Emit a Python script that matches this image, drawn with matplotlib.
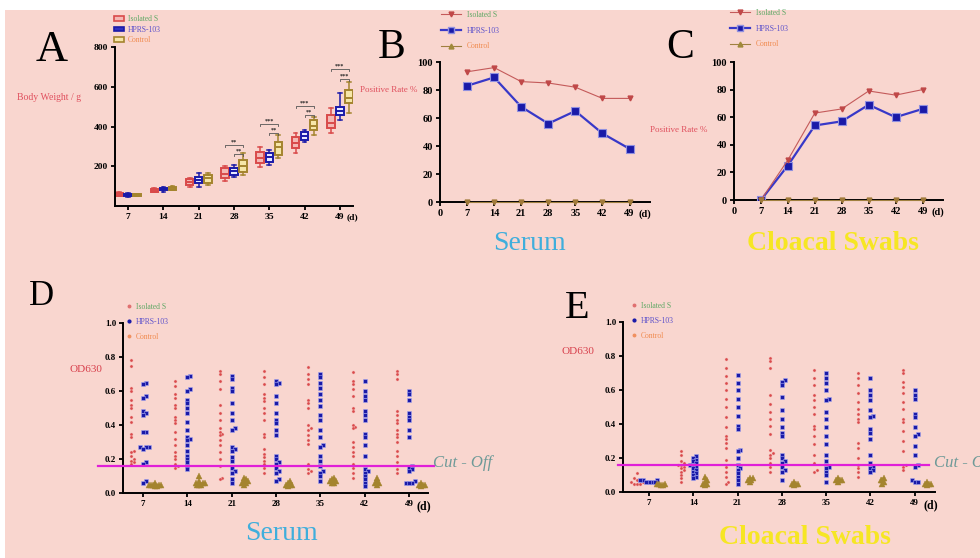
import numpy as np
import matplotlib
matplotlib.use("Agg")
import matplotlib.pyplot as plt
from matplotlib.patches import Rectangle, Patch
from matplotlib.lines import Line2D
import matplotlib.transforms as mtransforms

# ---------------- data ----------------
days = [7, 14, 21, 28, 35, 42, 49]
group_names = ["Isolated S", "HPRS-103", "Control"]

# Panel A : body weight box stats (whisker low, q1, median, q3, whisker high)
weight_iso = [(48, 52, 59, 64, 68), (68, 72, 80, 88, 93), (96, 106, 121, 136, 141),
              (126, 141, 162, 191, 201), (196, 216, 240, 272, 297),
              (267, 292, 315, 347, 367), (367, 392, 420, 458, 493)]
weight_hprs = [(44, 48, 55, 62, 66), (72, 78, 85, 92, 98), (96, 116, 130, 146, 166),
               (146, 156, 175, 191, 206), (206, 221, 248, 267, 282),
               (322, 332, 350, 372, 382), (433, 458, 478, 498, 568)]
weight_ctrl = [(50, 52, 57, 60, 62), (78, 82, 90, 98, 102), (106, 116, 140, 156, 166),
               (156, 171, 200, 231, 267), (241, 257, 297, 322, 357),
               (357, 382, 402, 433, 448), (468, 518, 545, 583, 624)]
sig_day = [28, 35, 42, 49]
sig_outer = ["**", "***", "***", "***"]
sig_inner = ["**", "**", "**", "***"]
sig_outer_y = [307, 412, 503, 689]
sig_inner_y = [262, 367, 458, 638]

# Panels B / C : positive rate %
serum_rate_iso = [93, 96, 86, 85, 82, 74, 74]
serum_rate_hprs = [83, 89, 68, 56, 65, 49, 38]
serum_rate_ctrl = [0, 0, 0, 0, 0, 0, 0]
swab_rate_iso = [0, 29, 63, 66, 79, 76, 80]
swab_rate_hprs = [0, 25, 54, 57, 69, 60, 66]
swab_rate_ctrl = [0, 0, 0, 0, 0, 0, 0]

# Panels D / E : OD630 individual values per day
serum_od_iso = [
    [0.78, 0.75, 0.62, 0.60, 0.55, 0.52, 0.50, 0.45, 0.42, 0.35, 0.33, 0.25, 0.24, 0.22, 0.20, 0.19, 0.18, 0.17],
    [0.66, 0.63, 0.58, 0.56, 0.52, 0.50, 0.45, 0.43, 0.41, 0.36, 0.32, 0.28, 0.24, 0.22, 0.20, 0.17, 0.16, 0.15],
    [0.72, 0.70, 0.66, 0.61, 0.52, 0.47, 0.43, 0.38, 0.36, 0.35, 0.34, 0.31, 0.28, 0.24, 0.20, 0.16, 0.09, 0.08],
    [0.72, 0.68, 0.64, 0.58, 0.56, 0.54, 0.50, 0.47, 0.43, 0.35, 0.33, 0.26, 0.23, 0.21, 0.19, 0.17, 0.15, 0.12],
    [0.74, 0.70, 0.67, 0.64, 0.55, 0.53, 0.50, 0.40, 0.38, 0.37, 0.34, 0.31, 0.29, 0.17, 0.14, 0.13, 0.12],
    [0.71, 0.66, 0.64, 0.61, 0.57, 0.50, 0.48, 0.40, 0.39, 0.38, 0.30, 0.27, 0.24, 0.22, 0.17, 0.15, 0.12, 0.09],
    [0.72, 0.70, 0.67, 0.48, 0.46, 0.43, 0.41, 0.37, 0.35, 0.33, 0.30, 0.25, 0.22, 0.18, 0.14, 0.12],
]
serum_od_hprs = [
    [0.65, 0.64, 0.57, 0.56, 0.48, 0.47, 0.46, 0.36, 0.36, 0.27, 0.27, 0.27, 0.26, 0.18, 0.17, 0.07, 0.06],
    [0.69, 0.68, 0.61, 0.60, 0.55, 0.53, 0.50, 0.47, 0.42, 0.37, 0.33, 0.32, 0.31, 0.28, 0.25, 0.22, 0.20, 0.18, 0.16, 0.14],
    [0.69, 0.67, 0.62, 0.60, 0.53, 0.47, 0.43, 0.38, 0.37, 0.27, 0.26, 0.25, 0.21, 0.19, 0.15, 0.13, 0.12, 0.08, 0.06],
    [0.66, 0.65, 0.64, 0.57, 0.53, 0.47, 0.43, 0.41, 0.37, 0.34, 0.22, 0.20, 0.18, 0.17, 0.15, 0.13, 0.12, 0.08, 0.07],
    [0.70, 0.68, 0.65, 0.62, 0.58, 0.55, 0.51, 0.46, 0.43, 0.37, 0.33, 0.28, 0.27, 0.22, 0.19, 0.16, 0.13, 0.12, 0.10, 0.07],
    [0.66, 0.60, 0.57, 0.55, 0.48, 0.46, 0.43, 0.35, 0.33, 0.28, 0.22, 0.14, 0.13, 0.12, 0.10, 0.08, 0.06, 0.04],
    [0.60, 0.58, 0.55, 0.47, 0.45, 0.43, 0.37, 0.33, 0.16, 0.15, 0.14, 0.13, 0.07, 0.06, 0.06, 0.06],
]
serum_od_ctrl = [
    [0.05, 0.05, 0.05, 0.04, 0.05, 0.06, 0.05, 0.04],
    [0.10, 0.07, 0.06, 0.06, 0.05, 0.05, 0.06, 0.05],
    [0.09, 0.08, 0.07, 0.06, 0.05, 0.07, 0.06],
    [0.07, 0.06, 0.05, 0.05, 0.05, 0.04],
    [0.09, 0.08, 0.07, 0.07, 0.06, 0.06],
    [0.09, 0.07, 0.06, 0.05, 0.06],
    [0.06, 0.05, 0.05, 0.05, 0.04],
]
swab_od_iso = [
    [0.11, 0.08, 0.07, 0.06, 0.06, 0.05, 0.05, 0.05, 0.07],
    [0.24, 0.22, 0.18, 0.17, 0.16, 0.16, 0.15, 0.14, 0.13, 0.12, 0.10, 0.08, 0.06],
    [0.78, 0.73, 0.68, 0.64, 0.60, 0.55, 0.50, 0.44, 0.38, 0.33, 0.31, 0.29, 0.26, 0.19, 0.15, 0.12, 0.09, 0.06, 0.05],
    [0.79, 0.77, 0.73, 0.57, 0.52, 0.47, 0.43, 0.39, 0.34, 0.25, 0.23, 0.22, 0.20, 0.17, 0.15, 0.12],
    [0.72, 0.67, 0.63, 0.57, 0.54, 0.50, 0.46, 0.39, 0.37, 0.33, 0.28, 0.22, 0.17, 0.13, 0.12],
    [0.70, 0.67, 0.63, 0.58, 0.53, 0.49, 0.46, 0.43, 0.41, 0.29, 0.26, 0.20, 0.16, 0.14, 0.12, 0.09],
    [0.72, 0.70, 0.65, 0.62, 0.58, 0.53, 0.49, 0.43, 0.41, 0.36, 0.30, 0.24, 0.16, 0.15, 0.13],
]
swab_od_hprs = [
    [0.07, 0.07, 0.06, 0.06, 0.06, 0.07, 0.06],
    [0.21, 0.20, 0.19, 0.18, 0.17, 0.16, 0.16, 0.15, 0.14, 0.13, 0.12, 0.11, 0.10, 0.09, 0.08],
    [0.69, 0.64, 0.60, 0.55, 0.50, 0.45, 0.39, 0.37, 0.25, 0.24, 0.20, 0.16, 0.14, 0.13, 0.11, 0.09, 0.07, 0.05],
    [0.66, 0.65, 0.63, 0.56, 0.48, 0.43, 0.38, 0.35, 0.33, 0.22, 0.20, 0.18, 0.17, 0.15, 0.13, 0.12, 0.07],
    [0.70, 0.67, 0.64, 0.60, 0.55, 0.54, 0.47, 0.43, 0.38, 0.33, 0.28, 0.22, 0.18, 0.15, 0.14, 0.12, 0.10, 0.06],
    [0.67, 0.60, 0.57, 0.54, 0.48, 0.45, 0.44, 0.37, 0.35, 0.31, 0.22, 0.17, 0.15, 0.14, 0.13, 0.12],
    [0.60, 0.57, 0.55, 0.46, 0.44, 0.38, 0.34, 0.33, 0.27, 0.22, 0.16, 0.15, 0.07, 0.06, 0.06],
]
swab_od_ctrl = [
    [0.05, 0.05, 0.04, 0.05, 0.04],
    [0.09, 0.07, 0.06, 0.05, 0.05, 0.04],
    [0.08, 0.07, 0.07, 0.06, 0.08],
    [0.06, 0.05, 0.05, 0.04, 0.05],
    [0.08, 0.07, 0.07, 0.06, 0.07],
    [0.08, 0.07, 0.06, 0.05, 0.07],
    [0.06, 0.05, 0.05, 0.05, 0.04],
]
cutoff = 0.16

# ---------------- style ----------------
W, H = 980, 558
PINK = "#F9D6CF"
RED = "#D94A4A"
BLUE = "#1A1AA8"
GOLD = "#A4842E"
TXT_ISO = "#5FA865"
TXT_HPRS = "#5A4FCB"
TXT_CTRL = "#F08A4E"
YLAB = "#E0505E"
SERIF = ["Liberation Serif", "DejaVu Serif"]
plt.rcParams["font.family"] = SERIF

fig = plt.figure(figsize=(W / 100, H / 100), dpi=100, facecolor="white")
fig.patches.append(Rectangle((5 / W, 0), 1, (H - 10) / H, transform=fig.transFigure,
                             facecolor=PINK, edgecolor="none", zorder=-10))


def px_axes(l, t, r, b):
    ax = fig.add_axes([l / W, 1 - b / H, (r - l) / W, (b - t) / H])
    ax.set_facecolor("none")
    return ax


def ftext(x, y, s, **kw):
    fig.text(x / W, 1 - y / H, s, **kw)


def style(ax, fs):
    for s in ["top", "right"]:
        ax.spines[s].set_visible(False)
    for s in ["left", "bottom"]:
        ax.spines[s].set_linewidth(1.4)
    ax.tick_params(direction="out", length=3, width=1.3, labelsize=fs, pad=2)
    for lab in ax.get_xticklabels() + ax.get_yticklabels():
        lab.set_fontweight("bold")


def color_legend(leg):
    for t, c in zip(leg.get_texts(), [TXT_ISO, TXT_HPRS, TXT_CTRL]):
        t.set_color(c)


def swarm_offsets(vals, step_y, dx):
    vals = np.asarray(vals, dtype=float)
    order = np.argsort(vals)
    offs = np.zeros(len(vals))
    placed = []
    for i in order:
        y = vals[i]
        k = 0
        while True:
            cand = 0.0 if k == 0 else ((k + 1) // 2) * dx * (1 if k % 2 else -1)
            if all(abs(py - y) >= step_y or abs(po - cand) >= dx * 0.99 for py, po in placed):
                break
            k += 1
        offs[i] = cand
        placed.append((y, cand))
    return offs


# ---------------- Panel A ----------------
axA = px_axes(115, 47, 353, 206)
off = 1.8
for stats_src, dx, col, fc in [(weight_iso, -off, RED, "#F4B8B4"),
                               (weight_hprs, 0.0, BLUE, "#E8E8FF"),
                               (weight_ctrl, off, GOLD, "#F6E6A8")]:
    stats = [dict(whislo=s[0], q1=s[1], med=s[2], q3=s[3], whishi=s[4], label="") for s in stats_src]
    axA.bxp(stats, positions=[d + dx for d in days], widths=1.5, patch_artist=True,
            showfliers=False,
            boxprops=dict(facecolor=fc, edgecolor=col, linewidth=1.4),
            medianprops=dict(color=col, linewidth=1.4),
            whiskerprops=dict(color=col, linewidth=1.1),
            capprops=dict(color=col, linewidth=1.1), manage_ticks=False)
for d, so, si, yo, yi in zip(sig_day, sig_outer, sig_inner, sig_outer_y, sig_inner_y):
    for x1, x2, y, s in [(d - off, d + off, yo, so), (d, d + off, yi, si)]:
        axA.plot([x1, x1, x2, x2], [y - 8, y, y, y - 8], color="#555555", lw=0.6)
        axA.text((x1 + x2) / 2, y + 4, s, ha="center", va="bottom", fontsize=4.5,
                 fontweight="bold", color="#222222")
axA.set_xlim(4.4, 51.6)
axA.set_ylim(0, 800)
axA.set_xticks(days)
axA.set_yticks([200, 400, 600, 800])
style(axA, 6.8)
ftext(347, 217, "(d)", fontsize=6.8, fontweight="bold", va="center", ha="left")
legA = axA.legend(handles=[Patch(facecolor="#F4B8B4", edgecolor=RED, lw=1.2),
                           Patch(facecolor="#3030C0", edgecolor=BLUE, lw=1.2),
                           Patch(facecolor="#F6E6A8", edgecolor=GOLD, lw=1.2)],
                  labels=group_names, loc="upper left", bbox_to_anchor=(114 / W, 1 - 15 / H),
                  bbox_transform=fig.transFigure, frameon=False, fontsize=5.5,
                  handlelength=1.3, handleheight=0.6, handletextpad=0.5, labelspacing=0.35,
                  borderpad=0, borderaxespad=0)
color_legend(legA)
ftext(17, 98, "Body Weight / g", fontsize=7, color=YLAB, va="center", ha="left")
ftext(52, 61, "A", fontsize=32, va="baseline", ha="center")

# ---------------- Panels B / C ----------------
def rate_panel(box, iso, hprs, ctrl, leg_anchor, title, tcol, tx, ylx, yly, letter, lx, ly):
    ax = px_axes(*box)
    ax.plot(days, hprs, color="#3838C8", lw=1.6, marker="s", ms=5.5, mfc=BLUE, mec="#9090E0",
            mew=0.8, zorder=3, label=group_names[1])
    ax.plot(days, iso, color="#C45A5A", lw=0.8, marker="v", ms=3.5, mfc="#C04848", mec="#C04848",
            zorder=4, label=group_names[0])
    ax.plot(days, ctrl, color="#A08040", lw=0.8, marker="v", ms=3.5, mfc="#A07A3A", mec="#A07A3A",
            zorder=5, clip_on=False, label=group_names[2])
    ax.set_xlim(0, 54.3)
    ax.set_ylim(0, 100)
    ax.set_xticks([0] + days)
    ax.set_yticks([0, 20, 40, 60, 80, 100])
    style(ax, 7.5)
    handles = [Line2D([], [], color="#C45A5A", lw=0.8, marker="v", ms=3.5, mfc="#C04848", mec="#C04848"),
               Line2D([], [], color="#3838C8", lw=1.6, marker="s", ms=5, mfc=BLUE, mec="#9090E0"),
               Line2D([], [], color="#A08040", lw=0.8, marker="^", ms=3.5, mfc="#A08A3A", mec="#A08A3A")]
    leg = ax.legend(handles=handles, labels=group_names, loc="upper left",
                    bbox_to_anchor=leg_anchor, bbox_transform=fig.transFigure, frameon=False,
                    fontsize=5.5, handlelength=2.6, handletextpad=0.8, labelspacing=1.0,
                    borderpad=0, borderaxespad=0)
    color_legend(leg)
    ftext(box[2] - 12, box[3] + 12, "(d)", fontsize=7.5, fontweight="bold", va="center", ha="left")
    ftext(tx, 243, title, fontsize=20, color=tcol, ha="center", va="center",
          fontweight="bold" if "Cloacal" in title else "normal")
    ftext(ylx, yly, "Positive Rate %", fontsize=6.5, color=YLAB, ha="right", va="center")
    ftext(lx, ly, letter, fontsize=30, va="baseline", ha="center")
    return ax


rate_panel((440, 62, 650, 202), serum_rate_iso, serum_rate_hprs, serum_rate_ctrl,
           (441 / W, 1 - 11 / H), "Serum", "#3FAEDC", 529, 417, 90, "B", 392, 58)
rate_panel((734, 62, 943, 200), swab_rate_iso, swab_rate_hprs, swab_rate_ctrl,
           (730 / W, 1 - 9 / H), "Cloacal Swabs", "#F6E623", 833, 707, 130, "C", 680, 58)

# ---------------- Panels D / E ----------------
def od_panel(box, xlim, iso, hprs, ctrl, leg_anchor, title, tcol, tx, ty, ylx, yly,
             letter, lx, ly, lfs, cut_x0, cut_x1, cut_tx):
    ax = px_axes(*box)
    o = 1.9
    for vals_by_day, dx, kw, sy, sx in [
        (iso, -o, dict(marker="o", ms=2.2, color=RED, mec="#F2B0B0", mew=0.3), 0.018, 0.45),
        (hprs, 0.0, dict(marker="s", ms=2.4, color=BLUE, mec="#A8A8F0", mew=0.4), 0.018, 0.45),
        (ctrl, o, dict(marker="^", ms=4.2, color=GOLD, mec=GOLD, mew=0.3), 0.012, 0.3),
    ]:
        for d, vals in zip(days, vals_by_day):
            offs = swarm_offsets(vals, sy, sx)
            ax.plot(np.full(len(vals), d + dx) + offs, vals, ls="none", zorder=3, **kw)
    tr = mtransforms.blended_transform_factory(ax.transAxes, ax.transData)
    ax.plot([cut_x0, cut_x1], [cutoff, cutoff], color="#E020D8", lw=1.6, transform=tr,
            clip_on=False, zorder=4)
    ax.set_xlim(*xlim)
    ax.set_ylim(0, 1.0)
    ax.set_xticks(days)
    ax.set_yticks([0.0, 0.2, 0.4, 0.6, 0.8, 1.0])
    ax.set_yticklabels(["0.0", "0.2", "0.4", "0.6", "0.8", "1.0"])
    style(ax, 6.5)
    handles = [Line2D([], [], ls="none", marker="o", ms=1.8, color="#E07070"),
               Line2D([], [], ls="none", marker="o", ms=2.0, color=BLUE),
               Line2D([], [], ls="none", marker="o", ms=1.8, color="#F09060")]
    leg = ax.legend(handles=handles, labels=group_names, loc="upper left",
                    bbox_to_anchor=leg_anchor, bbox_transform=fig.transFigure, frameon=False,
                    fontsize=5.5, handlelength=0.6, handletextpad=0.6, labelspacing=0.9,
                    borderpad=0, borderaxespad=0)
    color_legend(leg)
    ftext(box[2] - 12, box[3] + 13, "(d)", fontsize=8.5, fontweight="bold", va="center", ha="left")
    ftext(tx, ty, title, fontsize=20, color=tcol, ha="center", va="center",
          fontweight="bold" if "Cloacal" in title else "normal")
    ftext(ylx, yly, "OD630", fontsize=8, color="#D8404C", ha="left", va="center")
    ftext(lx, ly, letter, fontsize=lfs, va="baseline", ha="center")
    ftext(cut_tx, 463, "Cut - Off", fontsize=12, style="italic", color="#6E9A98",
          ha="left", va="center")
    return ax


od_panel((123, 323, 428, 493), (3.84, 52.0), serum_od_iso, serum_od_hprs, serum_od_ctrl,
         (127 / W, 1 - 303 / H), "Serum", "#3FAEDC", 281, 533, 70, 370, "D", 41, 305, 25,
         -0.082, 1.02, 433)
od_panel((623, 322, 935, 492), (2.9, 52.2), swab_od_iso, swab_od_hprs, swab_od_ctrl,
         (632 / W, 1 - 302 / H), "Cloacal Swabs", "#F6E623", 805, 538, 561, 352, "E", 577, 318, 29,
         -0.016, 0.98, 934)

fig.savefig("out.png", dpi=100, facecolor=fig.get_facecolor())
